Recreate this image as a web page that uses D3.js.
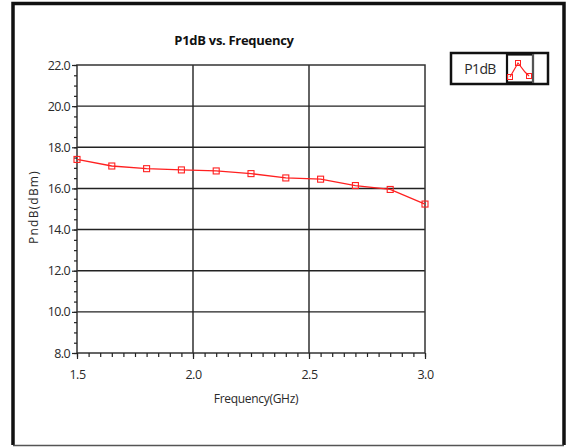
<!DOCTYPE html>
<html>
<head>
<meta charset="utf-8">
<script src="https://cdn.jsdelivr.net/npm/d3@7"></script>
<style>
  body { margin: 0; background: #fff; }
  text { font-family: "Open Sans", sans-serif; fill: #2a2a2a; }
</style>
</head>
<body>
<div id="chart-area"></div>
<script>
// data
var freqs = [1.5, 1.65, 1.8, 1.95, 2.1, 2.25, 2.4, 2.55, 2.7, 2.85, 3.0];
var p1db  = [17.41, 17.09, 16.96, 16.9, 16.85, 16.72, 16.51, 16.45, 16.14, 15.95, 15.24];
var xTicks = [1.5, 2.0, 2.5, 3.0];
var yTicks = [8, 10, 12, 14, 16, 18, 20, 22];
var seriesName = "P1dB";

var W = 569, H = 447;
var margin = { left: 77, right: 144, top: 65, bottom: 94 };
var width = W - margin.left - margin.right;
var height = H - margin.top - margin.bottom;

var svg = d3.select("#chart-area").append("svg")
    .attr("width", W)
    .attr("height", H);

// outer frame: heavy left/top/right, thin bottom
svg.append("path")
    .attr("d", "M13,445 L13,3.5 L564,3.5 L564,445")
    .attr("fill", "none")
    .attr("stroke", "#111")
    .attr("stroke-width", 3.5);
svg.append("line")
    .attr("x1", 13).attr("x2", 564).attr("y1", 445.5).attr("y2", 445.5)
    .attr("stroke", "#555").attr("stroke-width", 1.5);

var g = svg.append("g")
    .attr("transform", "translate(" + margin.left + "," + margin.top + ")");

var x = d3.scaleLinear().domain([1.5, 3.0]).range([0, width]);
var y = d3.scaleLinear().domain([8, 22]).range([height, 0]);

// grid lines
g.selectAll(".hgrid").data(yTicks.slice(1, -1)).enter().append("line")
    .attr("x1", 0).attr("x2", width)
    .attr("y1", d => y(d)).attr("y2", d => y(d))
    .attr("stroke", "#222").attr("stroke-width", 1.4);
g.selectAll(".vgrid").data(xTicks.slice(1, -1)).enter().append("line")
    .attr("y1", 0).attr("y2", height)
    .attr("x1", d => x(d)).attr("x2", d => x(d))
    .attr("stroke", "#222").attr("stroke-width", 1.4);

// plot frame
g.append("rect")
    .attr("width", width).attr("height", height)
    .attr("fill", "none").attr("stroke", "#333").attr("stroke-width", 1.5);

// minor ticks
var xMinor = d3.range(1.5, 3.0001, 0.05);
var yMinor = d3.range(8, 22.0001, 0.5);

var xAxisGroup = g.append("g").attr("transform", "translate(0," + height + ")");
xAxisGroup.call(d3.axisBottom(x).tickValues(xMinor).tickSize(4).tickFormat(""));
xAxisGroup.call(g2 => g2.select(".domain").remove());
var xMajor = g.append("g").attr("transform", "translate(0," + height + ")")
    .call(d3.axisBottom(x).tickValues(xTicks).tickSize(6).tickPadding(11)
        .tickFormat(d3.format(".1f")));
xMajor.select(".domain").remove();
xMajor.selectAll("text").attr("font-size", "12.5px").attr("font-family", "Open Sans")
    .attr("letter-spacing", "-0.5px");

var yAxisGroup = g.append("g");
yAxisGroup.call(d3.axisLeft(y).tickValues(yMinor).tickSize(3).tickFormat(""));
yAxisGroup.call(g2 => g2.select(".domain").remove());
var yMajor = g.append("g")
    .call(d3.axisLeft(y).tickValues(yTicks).tickSize(5).tickPadding(2)
        .tickFormat(d3.format(".1f")));
yMajor.select(".domain").remove();
yMajor.selectAll("text").attr("font-size", "12.5px").attr("font-family", "Open Sans")
    .attr("letter-spacing", "-0.6px");

g.selectAll(".tick line").attr("stroke", "#222").attr("stroke-width", 1.2);
g.selectAll(".tick text").attr("fill", "#2a2a2a");

// the series
var line = d3.line().x((d, i) => x(freqs[i])).y(d => y(d));
g.append("path")
    .datum(p1db)
    .attr("d", line)
    .attr("fill", "none")
    .attr("stroke", "#ff2020")
    .attr("stroke-width", 1.3);

g.selectAll(".pt").data(p1db).enter().append("rect")
    .attr("x", (d, i) => x(freqs[i]) - 3)
    .attr("y", d => y(d) - 3)
    .attr("width", 6).attr("height", 6)
    .attr("fill", "none")
    .attr("stroke", "#ff2020")
    .attr("stroke-width", 1.1);

// title and axis labels
svg.append("text")
    .attr("x", 234).attr("y", 45)
    .attr("text-anchor", "middle")
    .attr("font-size", "13px").attr("font-weight", "bold")
    .attr("letter-spacing", "-0.3px")
    .style("fill", "#111")
    .text("P1dB vs. Frequency");

svg.append("text")
    .attr("x", 256).attr("y", 403)
    .attr("text-anchor", "middle")
    .attr("font-size", "12px")
    .attr("letter-spacing", "-0.3px")
    .text("Frequency(GHz)");

svg.append("text")
    .attr("transform", "translate(38,207) rotate(-90)")
    .attr("text-anchor", "middle")
    .attr("font-size", "12px")
    .attr("letter-spacing", "1.2px")
    .text("PndB(dBm)");

// legend
var leg = svg.append("g");
leg.append("rect")
    .attr("x", 451).attr("y", 53).attr("width", 97).attr("height", 31)
    .attr("fill", "#fff").attr("stroke", "#111").attr("stroke-width", 2.5);
leg.append("rect")
    .attr("x", 507).attr("y", 54.5).attr("width", 26).attr("height", 28)
    .attr("fill", "#fff").attr("stroke", "#111").attr("stroke-width", 2.2);
leg.append("line")
    .attr("x1", 533).attr("x2", 533).attr("y1", 54).attr("y2", 83)
    .attr("stroke", "#999").attr("stroke-width", 1);
leg.append("text")
    .attr("x", 480).attr("y", 74)
    .attr("text-anchor", "middle")
    .attr("font-size", "14px")
    .attr("letter-spacing", "-0.6px")
    .text(seriesName);

var iconPts = [[510, 77], [518, 63], [525, 72], [529, 76]];
leg.append("path")
    .attr("d", d3.line()(iconPts))
    .attr("fill", "none").attr("stroke", "#ff2020").attr("stroke-width", 1.2);
leg.selectAll(".ipt").data([iconPts[0], iconPts[1], iconPts[3]]).enter().append("rect")
    .attr("x", d => d[0] - 2.5).attr("y", d => d[1] - 2.5)
    .attr("width", 5).attr("height", 5)
    .attr("fill", "none").attr("stroke", "#ff2020").attr("stroke-width", 1);
</script>
</body>
</html>
